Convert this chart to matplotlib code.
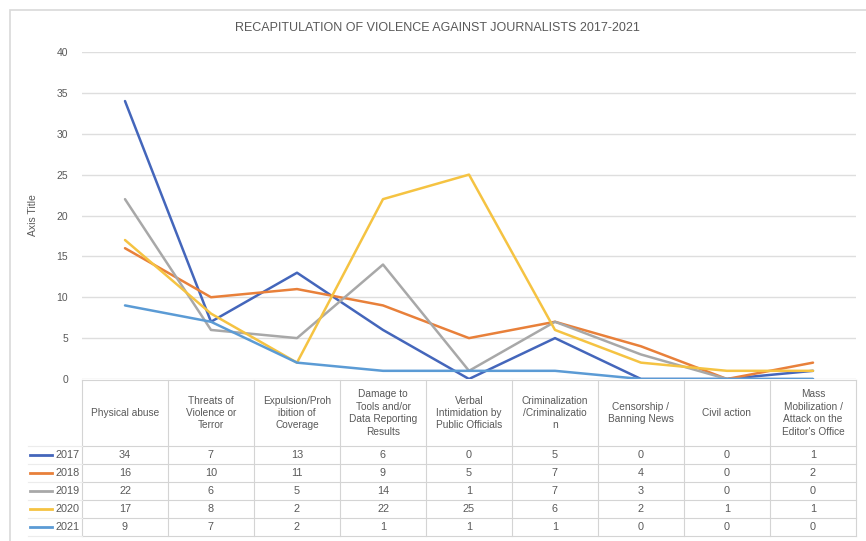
import matplotlib.pyplot as plt
from matplotlib.patches import Rectangle

categories = [
    "Physical abuse",
    "Threats of\nViolence or\nTerror",
    "Expulsion/Proh\nibition of\nCoverage",
    "Damage to\nTools and/or\nData Reporting\nResults",
    "Verbal\nIntimidation by\nPublic Officials",
    "Criminalization\n/Criminalizatio\nn",
    "Censorship /\nBanning News",
    "Civil action",
    "Mass\nMobilization /\nAttack on the\nEditor's Office",
]
years = ["2017", "2018", "2019", "2020", "2021"]
v2017 = [34, 7, 13, 6, 0, 5, 0, 0, 1]
v2018 = [16, 10, 11, 9, 5, 7, 4, 0, 2]
v2019 = [22, 6, 5, 14, 1, 7, 3, 0, 0]
v2020 = [17, 8, 2, 22, 25, 6, 2, 1, 1]
v2021 = [9, 7, 2, 1, 1, 1, 0, 0, 0]
series = [v2017, v2018, v2019, v2020, v2021]
colors = ["#4466BB", "#E8803A", "#A8A8A8", "#F5C342", "#5B9BD5"]

W, H = 866, 541
TXT = "#595959"
GRID = "#dedede"
plt.rcParams["font.family"] = ["Liberation Sans", "DejaVu Sans"]

fig = plt.figure(figsize=(W / 100, H / 100), dpi=100)
fig.patch.set_facecolor("white")

# chart frame (only left and top edges are visible in the crop)
fig.patches.append(Rectangle((10 / W, -0.1), 1.2, (H - 10) / H + 0.1,
                             transform=fig.transFigure, fill=False,
                             edgecolor="#d9d9d9", lw=1.2))

left, right = 82, 856
y0_px, y40_px = 379, 52
ax = fig.add_axes([left / W, (H - y0_px) / H, (right - left) / W, (y0_px - y40_px) / H])
x = list(range(len(categories)))
for vals, c in zip(series, colors):
    ax.plot(x, vals, color=c, lw=1.8, solid_capstyle="round", zorder=3)
ax.set_xlim(-0.5, len(categories) - 0.5)
ax.set_ylim(0, 40)
ax.set_yticks(range(0, 41, 5))
ax.set_xticks([])
ax.yaxis.grid(True, color=GRID, lw=1.0)
ax.set_axisbelow(True)
for s in ax.spines.values():
    s.set_visible(False)
ax.tick_params(axis="y", length=0, pad=10, labelsize=7.5, labelcolor=TXT)
ax.set_facecolor("none")

fig.text(437 / W, 1 - 28 / H, "RECAPITULATION OF VIOLENCE AGAINST JOURNALISTS 2017-2021",
         ha="center", va="center", fontsize=9, color=TXT)
fig.text(33 / W, 1 - 215 / H, "Axis Title", rotation=90, ha="center", va="center",
         fontsize=7.5, color=TXT)

# data table below the plot
top_px, bot_px = 380, 537
tab = fig.add_axes([left / W, (H - bot_px) / H, (right - left) / W, (bot_px - top_px) / H])
tab.set_xlim(-0.5, len(categories) - 0.5)
tab.set_ylim(bot_px - top_px, 0)
tab.axis("off")
px_cat = (right - left) / len(categories)
head_h, row_h = 66, 18
n = len(categories)
lc = "#d4d4d4"
for i in range(n + 1):
    tab.plot([i - 0.5, i - 0.5], [0, head_h + row_h * len(years)], color=lc, lw=0.8, clip_on=False)
tab.plot([-0.5, n - 0.5], [0, 0], color=lc, lw=0.8, clip_on=False)
leg_left = -0.5 - (left - 28) / px_cat
for r in range(len(years) + 1):
    yy = head_h + r * row_h
    tab.plot([-0.5, n - 0.5], [yy, yy], color=lc, lw=0.8, clip_on=False)
    tab.plot([leg_left, -0.5], [yy, yy], color="#ececec", lw=0.8, clip_on=False)
for i, cat in enumerate(categories):
    tab.text(i, head_h / 2, cat, ha="center", va="center", fontsize=7.3,
             color=TXT, linespacing=1.3)
for r, (yr, vals, c) in enumerate(zip(years, series, colors)):
    yy = head_h + r * row_h + row_h / 2
    tab.plot([-0.5 - (left - 30) / px_cat, -0.5 - (left - 52) / px_cat], [yy, yy],
             color=c, lw=2.0, clip_on=False)
    tab.text(-0.5 - (left - 80) / px_cat, yy, yr, ha="right", va="center",
             fontsize=7.8, color=TXT)
    for i, v in enumerate(vals):
        tab.text(i, yy, str(v), ha="center", va="center", fontsize=7.8, color=TXT)

fig.savefig("out.png", dpi=100)
